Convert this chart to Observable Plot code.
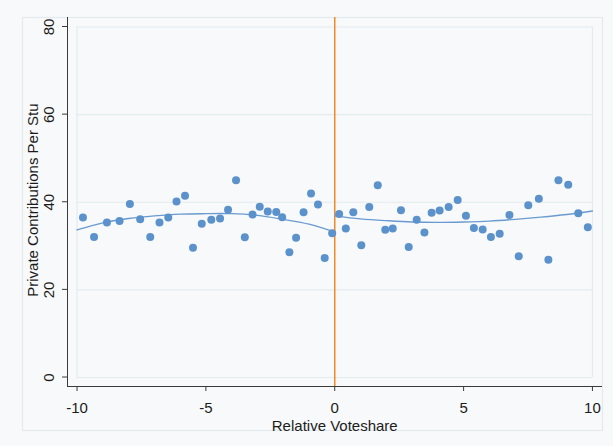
<!DOCTYPE html>
<html>
<head>
<meta charset="utf-8">
<script src="https://cdn.jsdelivr.net/npm/d3@7"></script>
<script src="https://cdn.jsdelivr.net/npm/@observablehq/plot@0.6"></script>
<style>
  html, body { margin: 0; padding: 0; background: #f8f9fa; }
  #chart { width: 613px; height: 446px; position: relative; }
  svg { display: block; }
</style>
</head>
<body>
<div id="chart"></div>
<script>
// Binned scatter (relative voteshare bins, mean private contributions per student)
const binX = [-9.77,-9.34,-8.84,-8.35,-7.95,-7.55,-7.16,-6.80,-6.46,-6.14,-5.81,-5.50,-5.16,-4.79,-4.45,-4.14,-3.83,-3.49,-3.19,-2.91,-2.60,-2.27,-2.04,-1.76,-1.50,-1.21,-0.92,-0.65,-0.39,-0.10,
              0.17,0.43,0.72,1.03,1.34,1.67,1.96,2.25,2.57,2.87,3.18,3.48,3.76,4.07,4.42,4.77,5.09,5.40,5.74,6.06,6.40,6.78,7.14,7.51,7.92,8.29,8.68,9.06,9.45,9.82];
const binY = [36.5,32.1,35.4,35.7,39.6,36.1,32.1,35.4,36.5,40.2,41.5,29.6,35.1,36.0,36.3,38.3,45.0,32.0,37.2,39.0,37.9,37.8,36.6,28.6,31.9,37.7,42.0,39.5,27.3,32.9,
              37.3,34.0,37.7,30.2,38.9,43.9,33.7,34.0,38.2,29.8,36.0,33.1,37.6,38.1,38.9,40.5,36.9,34.1,33.8,32.1,32.8,37.1,27.7,39.3,40.8,26.9,45.0,44.0,37.5,34.3];

// Fitted curves on each side of the cutoff
const fitLeftX  = [-10,-9,-8,-7,-6,-5,-4,-3,-2,-1,0];
const fitLeftY  = [33.7,35.3,36.3,36.9,37.3,37.4,37.4,37.0,36.1,35.0,33.2];
const fitRightX = [0,1,2,3,4,5,6,7,8,9,10];
const fitRightY = [36.9,36.2,35.8,35.5,35.4,35.5,35.7,36.1,36.6,37.2,38.0];

const cutoff = [0];
const xTicks = [-10,-5,0,5,10];
const yTicks = [0,20,40,60,80];
const xTitle = "Relative Voteshare";
const yTitle = "Private Contributions Per Stu";

const points = binX.map((x,i) => ({x, y: binY[i]}));
const fitL = fitLeftX.map((x,i) => ({x, y: fitLeftY[i]}));
const fitR = fitRightX.map((x,i) => ({x, y: fitRightY[i]}));

const xDom = [-10.37, 10.39];
const yDom = [-2.05, 82.17];
const font = "'Liberation Sans', Arial, sans-serif";
const grid = "#e3ebef";
const axisCol = "#3a3a3a";
const txt = "#1c1c1c";

const chart = Plot.plot({
  width: 613,
  height: 446,
  marginLeft: 67,
  marginRight: 11,
  marginTop: 17,
  marginBottom: 60,
  style: {background: "#f8f9fa", fontFamily: font, fontSize: "15px", color: txt},
  x: {domain: xDom},
  y: {domain: yDom, axis: null},
  marks: [
    // plot region inner box & grid
    Plot.ruleY(yTicks, {x1: -10, x2: 10, stroke: grid, strokeWidth: 1.2}),
    Plot.ruleX([-10, 10], {y1: 0, y2: 80, stroke: grid, strokeWidth: 1.2}),
    // cutoff line
    Plot.ruleX(cutoff, {stroke: "#ef8a25", strokeWidth: 1.5}),
    // fitted lines
    Plot.line(fitL, {x: "x", y: "y", curve: "natural", stroke: "#6a9bd0", strokeWidth: 1.4}),
    Plot.line(fitR, {x: "x", y: "y", curve: "natural", stroke: "#6a9bd0", strokeWidth: 1.4}),
    // scatter
    Plot.dot(points, {x: "x", y: "y", r: 4, fill: "#5c92cb", stroke: "none"}),
    // axes lines
    Plot.ruleX([xDom[0]], {stroke: axisCol, strokeWidth: 1}),
    Plot.ruleY([yDom[0]], {stroke: axisCol, strokeWidth: 1}),
    // x axis ticks and labels
    Plot.axisX({ticks: xTicks, tickSize: 5, tickPadding: 11, stroke: axisCol, fill: txt, fontSize: 15, label: null, tickFormat: d => String(d)}),
    // y axis rotated labels
    Plot.text(yTicks, {x: () => xDom[0], y: d => d, dx: -18, rotate: -90, text: d => String(d), fill: txt, fontSize: 15, textAnchor: "middle", lineAnchor: "middle"}),
    // titles
    Plot.text([yTitle], {frameAnchor: "left", y: () => 40.5, dx: -34, rotate: -90, text: d => d, fill: txt, fontSize: 15, textAnchor: "middle", lineAnchor: "middle"}),
    Plot.text([xTitle], {frameAnchor: "bottom", x: () => 0, dy: 40, text: d => d, fill: txt, fontSize: 15, textAnchor: "middle", lineAnchor: "middle"})
  ]
});

// short y ticks on the y scale (outside the plot, to the left)
const ys = chart.scale("y");
const svg = d3.select(chart);
const tg = svg.append("g").attr("stroke", axisCol);
yTicks.forEach(v => {
  tg.append("line").attr("x1", 62).attr("x2", 67).attr("y1", ys.apply(v)).attr("y2", ys.apply(v));
});
// outer graph frame
svg.insert("rect", ":first-child")
  .attr("x", 22.5).attr("y", 17.5).attr("width", 580).attr("height", 413)
  .attr("fill", "none").attr("stroke", "#e3ebef").attr("stroke-width", 1.2);

document.getElementById("chart").appendChild(chart);
</script>
</body>
</html>
